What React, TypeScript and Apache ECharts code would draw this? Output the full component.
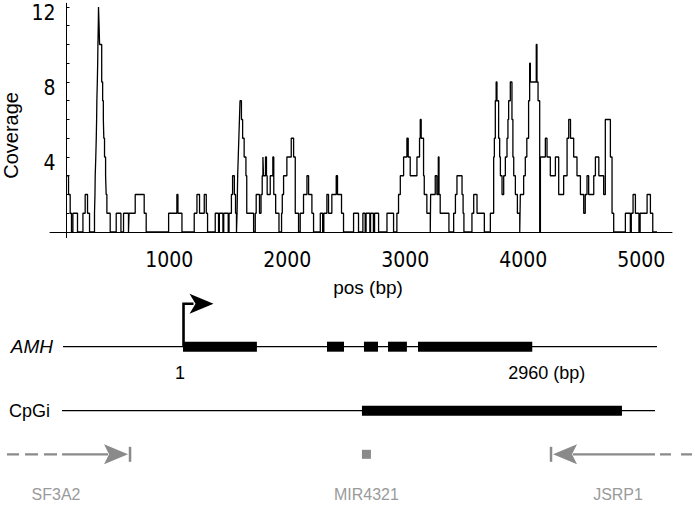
import React, { useEffect, useRef } from 'react';
import * as echarts from 'echarts';

// ---- Coverage (position in bp, read coverage from that position on) ----
const coverage: [number, number][] = [
  [130, 3], [147, 2], [161, 1], [172, 0], [184, 1], [223, 0], [269, 1], [288, 2], [308, 1], [325, 0],
  [367, 1], [371, 2], [373, 3], [378, 4], [382, 5], [385, 6], [387, 7], [391, 8], [394, 9], [396, 10], [399, 11], [401, 12],
  [406, 11], [410, 10], [428, 8], [436, 7], [442, 6], [446, 5], [452, 4], [461, 3], [466, 2], [472, 1], [500, 0],
  [551, 1], [591, 0], [613, 1], [655, 0], [660, 1], [712, 2], [788, 1], [805, 0],
  [995, 1], [1065, 2], [1074, 1], [1108, 0],
  [1212, 1], [1235, 2], [1257, 1], [1297, 2], [1314, 1], [1325, 0],
  [1390, 1], [1418, 0], [1425, 1], [1455, 0], [1462, 1], [1500, 0], [1507, 1], [1527, 2], [1537, 3], [1552, 2], [1562, 1], [1570, 0],
  [1575, 1], [1580, 3], [1585, 4], [1590, 5], [1595, 6], [1600, 7], [1612, 6], [1622, 5], [1635, 4], [1650, 3], [1657, 1], [1715, 0],
  [1729, 1], [1737, 2], [1765, 1], [1778, 2], [1788, 3], [1794, 4], [1799, 3], [1816, 4], [1824, 3], [1830, 2], [1856, 3], [1878, 4], [1886, 2], [1902, 1], [1930, 0],
  [1952, 1], [1958, 2], [1969, 3], [1997, 4], [2034, 5], [2054, 4], [2068, 1], [2096, 0], [2110, 1], [2138, 2], [2167, 3], [2181, 2], [2209, 1], [2223, 0],
  [2280, 1], [2300, 0], [2310, 1], [2336, 2], [2350, 1], [2378, 2], [2415, 3], [2426, 2], [2460, 1], [2477, 0],
  [2562, 1], [2604, 0], [2641, 1], [2660, 0], [2668, 1], [2700, 0], [2706, 1], [2730, 0], [2740, 1], [2774, 0],
  [2845, 1], [2901, 0], [2929, 1], [2943, 2], [2958, 3], [2986, 4], [3014, 5], [3025, 4], [3042, 3], [3099, 4], [3121, 5], [3127, 6], [3135, 5], [3155, 3], [3161, 2], [3183, 1], [3212, 0],
  [3215, 2], [3254, 3], [3268, 2], [3280, 4], [3286, 2], [3296, 1], [3370, 0],
  [3410, 1], [3425, 2], [3438, 3], [3481, 2], [3490, 1], [3497, 0],
  [3565, 1], [3580, 2], [3608, 1], [3670, 0],
  [3721, 1], [3749, 4], [3755, 5], [3763, 7], [3770, 8], [3777, 7], [3791, 5], [3800, 4], [3806, 3], [3820, 2], [3834, 3], [3848, 4], [3862, 5], [3870, 6], [3876, 7], [3890, 8], [3904, 6], [3912, 4], [3919, 3], [3933, 2], [3950, 1], [3970, 0],
  [3975, 2], [4003, 3], [4017, 4], [4030, 5], [4045, 7], [4054, 9], [4060, 8], [4095, 8], [4110, 10], [4116, 8], [4125, 7], [4139, 0], [4145, 4], [4187, 5], [4201, 4], [4229, 3], [4272, 4], [4300, 2], [4342, 3], [4371, 5], [4385, 6], [4400, 5], [4427, 4], [4455, 3], [4484, 2], [4512, 1], [4525, 2], [4540, 3], [4554, 2], [4597, 3], [4611, 4], [4640, 3], [4681, 2], [4695, 6], [4738, 4], [4752, 1], [4766, 0],
  [4865, 1], [4907, 0], [4915, 1], [4930, 2], [4950, 1], [4980, 0], [4990, 1], [5049, 2], [5077, 1], [5097, 0], [5133, 0],
];

const xTickLabels = [1000, 2000, 3000, 4000, 5000];
const yTickLabels = [4, 8, 12];
const yTicks = [0, 1, 2, 3, 4, 5, 6, 7, 8, 9, 10, 11, 12];

// ---- Gene diagram (bp on the same axis) ----
const geneName = 'AMH';
const geneStart = 1117; // axis bp of gene position 1
const geneLength = 2960;
const amhExons: [number, number][] = [[1, 627], [1221, 1365], [1534, 1653], [1738, 1898], [1992, 2960]];
const amhSpan: [number, number] = [100, 5133];
const cpgName = 'CpGi';
const cpgSpan: [number, number] = [92, 5116];
const cpgIsland: [number, number] = [2633, 4836];
const neighbourNames = ['SF3A2', 'MIR4321', 'JSRP1'];
const neighbourKinds = ['gene', 'mirna', 'gene'];
const neighbourStrands = ['+', '', '-'];
const neighbourPos = [668, 2671, 4235];

// ---- layout (pixels / track positions) ----
const W = 695, H = 505;
const GRID_LEFT = 50, GRID_WIDTH = 622;
const X_MIN = -10, X_MAX = 5260;
const Y_AMH = 56.7, Y_CPG = 120.7, Y_NB = 164.3, Y_NB_LABEL = 204;
const GRAY = '#8a8a8a';
const GRAY_TEXT = '#9a9a9a';
const SANS = "'Liberation Sans', Arial, sans-serif";
const TICK_FONT = "'DejaVu Sans Condensed', 'DejaVu Sans', sans-serif";

type Feature = { kind: string; idx: number };
const features: Feature[] = [
  { kind: 'amhTrack', idx: 0 },
  ...amhExons.map((_, i) => ({ kind: 'exon', idx: i })),
  { kind: 'tss', idx: 0 },
  { kind: 'coordLabels', idx: 0 },
  { kind: 'cpgTrack', idx: 0 },
  ...neighbourNames.map((_, i) => ({ kind: 'neighbour', idx: i })),
];

function arrowHead(tx: number, ty: number, dir: number, L: number, Hh: number, N: number) {
  return [
    [tx, ty],
    [tx - dir * L, ty - Hh],
    [tx - dir * (L - N), ty],
    [tx - dir * L, ty + Hh],
  ];
}

function renderItem(params: any, api: any) {
  const f = features[params.dataIndex];
  const c = (x: number, y: number) => api.coord([x, y]);
  const children: any[] = [];
  if (f.kind === 'amhTrack' || f.kind === 'cpgTrack') {
    const isAmh = f.kind === 'amhTrack';
    const span = isAmh ? amhSpan : cpgSpan;
    const y = isAmh ? Y_AMH : Y_CPG;
    const p0 = c(span[0], y), p1 = c(span[1], y);
    children.push({ type: 'line', shape: { x1: p0[0], y1: p0[1], x2: p1[0], y2: p1[1] }, style: { stroke: '#000', lineWidth: 1.2 } });
    children.push({
      type: 'text', x: p0[0] - (isAmh ? 10 : 12), y: p0[1],
      style: { text: isAmh ? geneName : cpgName, fill: '#000', fontSize: isAmh ? 19 : 18, fontStyle: isAmh ? 'italic' : 'normal', fontFamily: SANS, align: 'right', verticalAlign: 'middle' },
    });
    if (!isAmh) {
      const a = c(cpgIsland[0], y), b = c(cpgIsland[1], y);
      children.push({ type: 'rect', shape: { x: a[0], y: a[1] - 5, width: b[0] - a[0], height: 10 }, style: { fill: '#000' } });
    }
  } else if (f.kind === 'exon') {
    const [s, e] = amhExons[f.idx];
    const a = c(geneStart + s - 1, Y_AMH), b = c(geneStart + e - 1, Y_AMH);
    children.push({ type: 'rect', shape: { x: a[0], y: a[1] - 5, width: b[0] - a[0], height: 10 }, style: { fill: '#000' } });
  } else if (f.kind === 'tss') {
    const p = c(geneStart, Y_AMH);
    const x = p[0] + 0.5, top = p[1] - 43;
    children.push({ type: 'polyline', shape: { points: [[x, p[1]], [x, top], [x + 10, top]] }, style: { stroke: '#000', lineWidth: 2.6, fill: null } });
    children.push({ type: 'polygon', shape: { points: arrowHead(x + 30, top, 1, 24, 10, 6) }, style: { fill: '#000' } });
  } else if (f.kind === 'coordLabels') {
    const a = c(geneStart, Y_AMH), b = c(geneStart + geneLength - 1, Y_AMH);
    children.push({ type: 'text', x: a[0] - 3, y: a[1] + 26, style: { text: '1', fill: '#000', fontSize: 18, fontFamily: SANS, align: 'center', verticalAlign: 'middle' } });
    children.push({ type: 'text', x: b[0] - 24, y: b[1] + 26, style: { text: `${geneLength} (bp)`, fill: '#000', fontSize: 18, fontFamily: SANS, align: 'left', verticalAlign: 'middle' } });
  } else if (f.kind === 'neighbour') {
    const i = f.idx;
    const p = c(neighbourPos[i], Y_NB);
    const lp = c(neighbourPos[i], Y_NB_LABEL);
    let labelX = p[0];
    if (neighbourKinds[i] === 'mirna') {
      children.push({ type: 'rect', shape: { x: p[0] - 4.5, y: p[1] - 4.5, width: 9, height: 9 }, style: { fill: GRAY } });
    } else {
      const dir = neighbourStrands[i] === '+' ? 1 : -1;
      const tip = p[0] - dir * 2;
      const solidEnd = dir > 0 ? c(cpgSpan[0], Y_NB)[0] : c(cpgSpan[1], Y_NB)[0];
      const dashStart = solidEnd - dir * 5;
      const dashEnd = dir > 0 ? 7 : W;
      children.push({ type: 'line', shape: { x1: p[0], y1: p[1] - 7.5, x2: p[0], y2: p[1] + 7.5 }, style: { stroke: GRAY, lineWidth: 2.5 } });
      children.push({ type: 'polygon', shape: { points: arrowHead(tip, p[1], dir, 24, 10, 5) }, style: { fill: GRAY } });
      children.push({ type: 'line', shape: { x1: tip - dir * 20, y1: p[1], x2: solidEnd, y2: p[1] }, style: { stroke: GRAY, lineWidth: 2.2 } });
      children.push({ type: 'line', shape: { x1: dashStart, y1: p[1], x2: dashEnd, y2: p[1] }, style: { stroke: GRAY, lineWidth: 2.2, lineDash: dir > 0 ? [13, 6] : [11, 10] } });
      labelX = p[0] - dir * (dir > 0 ? 74 : 67);
    }
    children.push({ type: 'text', x: labelX, y: lp[1], style: { text: neighbourNames[i], fill: GRAY_TEXT, fontSize: 16, fontFamily: SANS, align: 'center', verticalAlign: 'middle' } });
  }
  return { type: 'group', children };
}

export default function App() {
  const ref = useRef<HTMLDivElement>(null);
  useEffect(() => {
    if (!ref.current) return;
    const chart = echarts.init(ref.current, undefined, { renderer: 'svg' });
    const axisLine = { color: '#000', width: 1 };
    chart.setOption({
      animation: false,
      backgroundColor: '#fff',
      grid: [
        { left: GRID_LEFT, width: GRID_WIDTH, top: 3.25, height: 234.35, containLabel: false, outerBoundsMode: 'none' },
        { left: GRID_LEFT, width: GRID_WIDTH, top: 290, height: 215, containLabel: false, outerBoundsMode: 'none' },
      ],
      xAxis: [
        {
          type: 'value', gridIndex: 0, min: X_MIN, max: X_MAX,
          name: 'pos (bp)', nameLocation: 'middle', nameGap: 40,
          nameTextStyle: { fontFamily: SANS, fontSize: 19, color: '#000', padding: [0, 0, 0, 14] },
          axisLine: { onZero: true, lineStyle: axisLine },
          axisTick: { show: false },
          splitLine: { show: false },
          axisLabel: { customValues: xTickLabels, formatter: (v: number) => String(v), margin: 12, fontFamily: TICK_FONT, fontSize: 21, color: '#000' },
        },
        { type: 'value', gridIndex: 1, min: X_MIN, max: X_MAX, show: false },
      ],
      yAxis: [
        {
          type: 'value', gridIndex: 0, min: -0.3, max: 12.2, offset: -16.5,
          name: 'Coverage', nameLocation: 'middle', nameGap: 46,
          nameTextStyle: { fontFamily: SANS, fontSize: 20, color: '#000', padding: [0, 30, 0, 0] },
          axisLine: { show: true, onZero: false, lineStyle: axisLine },
          axisTick: { show: true, inside: true, length: 3, customValues: yTicks, lineStyle: axisLine },
          axisLabel: { customValues: yTickLabels, formatter: (v: number) => String(v), margin: 11, fontFamily: TICK_FONT, fontSize: 21, color: '#000', verticalAlign: 'top', lineHeight: 12 },
          splitLine: { show: false },
        },
        { type: 'value', gridIndex: 1, min: 0, max: 215, inverse: true, show: false },
      ],
      series: [
        {
          type: 'line', xAxisIndex: 0, yAxisIndex: 0, data: coverage, step: 'end',
          symbol: 'none', showSymbol: false, silent: true,
          lineStyle: { color: '#000', width: 1.3 },
        },
        {
          type: 'custom', xAxisIndex: 1, yAxisIndex: 1, silent: true, clip: false,
          data: features.map((_, i) => [i, 0]),
          renderItem,
        },
      ],
    });
    return () => chart.dispose();
  }, []);
  return <div ref={ref} style={{ position: 'fixed', left: 0, top: 0, width: W, height: H, background: '#fff' }} />;
}
